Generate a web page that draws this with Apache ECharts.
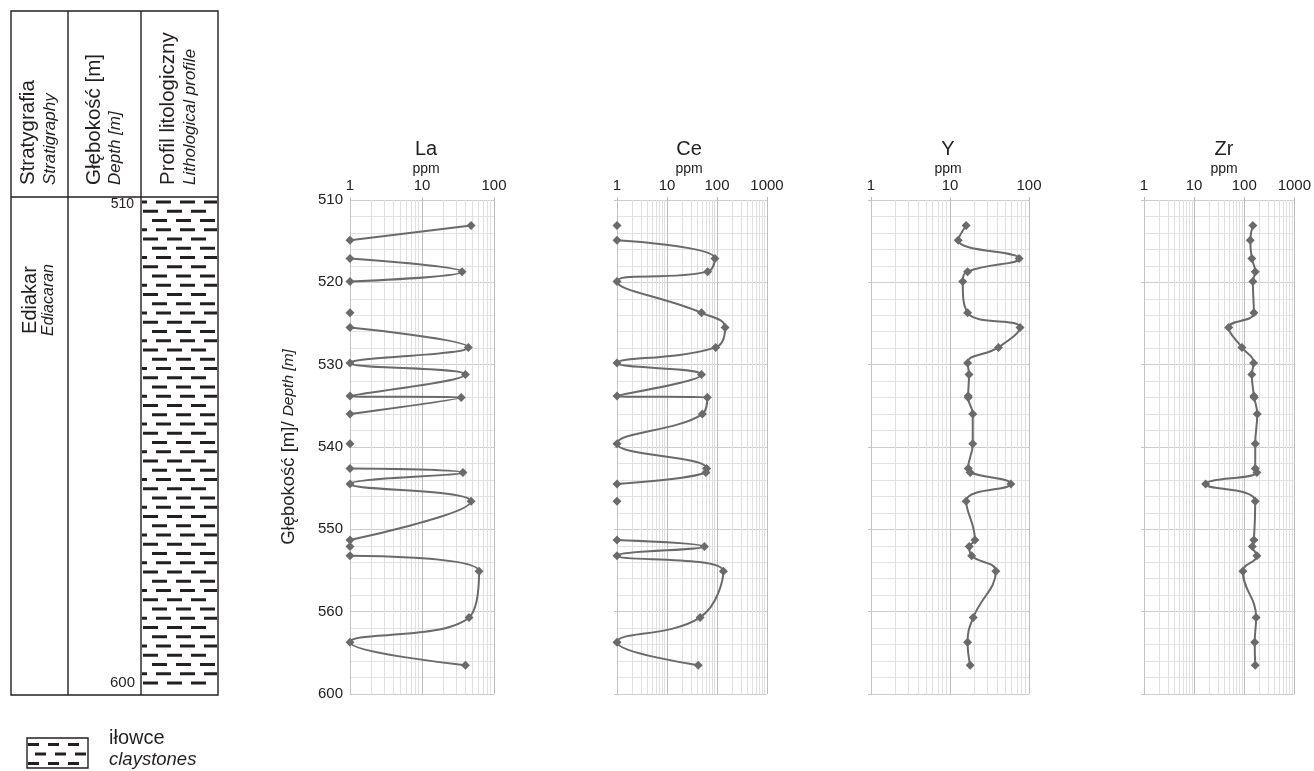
<!DOCTYPE html>
<html><head><meta charset="utf-8">
<script src="https://cdn.jsdelivr.net/npm/echarts@6/dist/echarts.min.js"></script>
<style>html,body{margin:0;padding:0;background:#fff}#c{width:1314px;height:771px}</style>
</head><body><div id="c"></div>
<script>
// ---------------- data ----------------
const depths = [513.1, 514.9, 517.1, 518.7, 519.9, 523.7, 525.5, 527.9, 529.8, 531.2, 533.8, 534.0, 536.0,
                539.6, 542.6, 543.1, 544.5, 546.6, 551.3, 552.1, 553.2, 555.1, 560.7, 563.7, 566.5];
const La = [48, 1, 1, 36, 1, 1, 1, 44, 1, 40, 1, 35, 1, 1, 1, 37, 1, 48, 1, 1, 1, 62, 45, 1, 40];
const Ce = [1, 1, 91, 65, 1, 49, 145, 94, 1, 49, 1, 64, 51, 1, 62, 60, 1, 1, 1, 56, 1, 134, 46, 1, 42];
const Yv = [16, 12.7, 75, 16.7, 14.5, 16.7, 77, 41, 16.7, 17.4, 17, 17, 19.4, 19.4, 17, 18, 59, 16, 20.7, 17.5, 18.8, 38, 19.7, 16.7, 18];
const Zr = [149, 132, 142, 166, 149, 156, 49, 90, 154, 142, 156, 158, 182, 166, 166, 179, 17, 166, 156, 145, 179, 94, 173, 162, 166];
const elementNames = ['La', 'Ce', 'Y', 'Zr'];
const elementValues = [La, Ce, Yv, Zr];
const xAxisMax = [100, 1000, 100, 1000];
const unitLabel = 'ppm';
const depthMin = 510, depthMax = 570, depthStep = 10;
const depthTickLabels = ['510', '520', '530', '540', '550', '560', '600'];
const tableDepthLabels = ['510', '600'];

// ---------------- layout ----------------
const FONT = 'Liberation Sans, Arial, Helvetica, sans-serif';
const panels = [
  {left: 350, width: 144, titleX: 421},
  {left: 617, width: 150, titleX: 684},
  {left: 871, width: 158, titleX: 943},
  {left: 1144, width: 151, titleX: 1219}
];
const gridTop = 200, gridHeight = 494;
const lineColor = '#6a6a6a';

function buildLine(vals) {
  // values at the axis minimum (1 ppm) sit on the axis edge; consecutive ones are not joined
  const out = [];
  for (let i = 0; i < vals.length; i++) {
    if (i > 0 && vals[i] === 1 && vals[i - 1] === 1) out.push(['-', '-']);
    out.push([vals[i], depths[i]]);
  }
  return out;
}
function minorValues(max) {
  const arr = [];
  for (let dec = 1; dec < max; dec *= 10) for (let k = 2; k <= 9; k++) arr.push(k * dec);
  return arr;
}

const grids = [], xAxes = [], yAxes = [], series = [], titles = [];
panels.forEach((p, i) => {
  grids.push({left: p.left, top: gridTop, width: p.width, height: gridHeight});
  xAxes.push({
    type: 'log', logBase: 10, min: 1, max: xAxisMax[i], gridIndex: i, position: 'top',
    axisLine: {show: false},
    axisTick: {show: true, length: 3, lineStyle: {color: '#b5b5b5'}},
    axisLabel: {fontFamily: FONT, fontSize: 15, color: '#222', margin: 7, formatter: v => String(v)},
    splitLine: {show: true, lineStyle: {color: '#bdbdbd', width: 1}}
  });
  yAxes.push({
    type: 'value', inverse: true, min: depthMin, max: depthMax, interval: depthStep, gridIndex: i,
    axisLine: {show: true, lineStyle: {color: '#c4c4c4'}},
    axisTick: {show: i > 0, length: 3, inside: false, lineStyle: {color: '#c4c4c4'}},
    axisLabel: {
      show: i === 0, fontFamily: FONT, fontSize: 15, color: '#222', margin: 7,
      formatter: v => depthTickLabels[Math.round((v - depthMin) / depthStep)]
    },
    splitLine: {show: true, lineStyle: {color: '#cdcdcd'}},
    minorTick: {show: false, splitNumber: 5},
    minorSplitLine: {show: true, lineStyle: {color: '#e3e3e3'}},
    name: i === 0 ? '{a|Głębokość [m]/ }{b|Depth [m]}' : '',
    nameLocation: 'middle', nameRotate: 90, nameGap: 52,
    nameTextStyle: {
      rich: {
        a: {fontFamily: FONT, fontSize: 18.5, color: '#222'},
        b: {fontFamily: FONT, fontSize: 15.5, fontStyle: 'italic', color: '#222'}
      }
    }
  });
  // light vertical minor grid lines of the log axis
  series.push({
    type: 'line', xAxisIndex: i, yAxisIndex: i, data: [], z: 1, silent: true,
    markLine: {
      silent: true, symbol: ['none', 'none'], label: {show: false}, animation: false,
      lineStyle: {color: '#e0e0e0', width: 1, type: 'solid'},
      data: minorValues(xAxisMax[i]).map(v => ({xAxis: v}))
    }
  });
  series.push({
    type: 'line', name: elementNames[i], xAxisIndex: i, yAxisIndex: i, z: 5,
    data: buildLine(elementValues[i]),
    smooth: 0.45, connectNulls: false, showSymbol: true, showAllSymbol: true,
    symbol: 'diamond', symbolSize: 9,
    lineStyle: {color: lineColor, width: 2},
    itemStyle: {color: lineColor},
    animation: false
  });
  titles.push({
    text: elementNames[i], subtext: unitLabel,
    left: p.titleX, top: 134, textAlign: 'center', itemGap: 3,
    textStyle: {fontFamily: FONT, fontSize: 20, fontWeight: 'normal', color: '#222'},
    subtextStyle: {fontFamily: FONT, fontSize: 14, color: '#222'}
  });
});

// ---------------- left lithology table (decoration) ----------------
const ink = '#231f20';
const g = [];
const T = {l: 11, r: 218, t: 11, b: 695, head: 197, c1: 68, c2: 141};
g.push({type: 'rect', shape: {x: T.l, y: T.t, width: T.r - T.l, height: T.b - T.t}, style: {fill: 'none', stroke: ink, lineWidth: 1.4}});
g.push({type: 'line', shape: {x1: T.l, y1: T.head, x2: T.r, y2: T.head}, style: {stroke: ink, lineWidth: 1.4}});
g.push({type: 'line', shape: {x1: T.c1, y1: T.t, x2: T.c1, y2: T.b}, style: {stroke: ink, lineWidth: 1.4}});
g.push({type: 'line', shape: {x1: T.c2, y1: T.t, x2: T.c2, y2: T.b}, style: {stroke: ink, lineWidth: 1.4}});
function vtext(x, y, text, size, italic, align) {
  return {type: 'text', x: x, y: y, rotation: Math.PI / 2,
    style: {text: text, x: 0, y: 0, fontFamily: FONT, fontSize: size, fontStyle: italic ? 'italic' : 'normal',
      fill: ink, align: align || 'left', verticalAlign: 'middle'}};
}
g.push(vtext(28.5, 185, 'Stratygrafia', 20.5, false));
g.push(vtext(50, 185, 'Stratigraphy', 17, true));
g.push(vtext(94.5, 185, 'Głębokość [m]', 20.5, false));
g.push(vtext(115.5, 185, 'Depth [m]', 17, true));
g.push(vtext(168, 185, 'Profil litologiczny', 20.5, false));
g.push(vtext(190.5, 185, 'Lithological profile', 17, true));
g.push(vtext(30, 300, 'Ediakar', 20, false, 'center'));
g.push(vtext(49, 300, 'Ediacaran', 16, true, 'center'));
g.push({type: 'text', x: 134, y: 204, style: {text: tableDepthLabels[0], fontFamily: FONT, fontSize: 14, fill: ink, align: 'right', verticalAlign: 'middle'}});
g.push({type: 'text', x: 135, y: 683, style: {text: tableDepthLabels[1], fontFamily: FONT, fontSize: 15, fill: ink, align: 'right', verticalAlign: 'middle'}});
// claystone dash pattern
function dashRows(x0, x1, y0, y1, step, period, len, offsets, th) {
  const out = [];
  let r = 0;
  for (let y = y0; y <= y1; y += step, r++) {
    for (let x = x0 + offsets[r % offsets.length] - period; x < x1; x += period) {
      const a = Math.max(x, x0 + 1), b = Math.min(x + len, x1 - 1);
      if (b - a > 3) out.push({type: 'rect', shape: {x: a, y: y - th / 2, width: b - a, height: th}, style: {fill: ink}});
    }
  }
  return out;
}
g.push(...dashRows(T.c2, T.r, 202, 691, 9.25, 24, 15, [15, 2, 11], 3));
// legend
g.push({type: 'rect', shape: {x: 27, y: 738, width: 61, height: 30}, style: {fill: 'none', stroke: ink, lineWidth: 1.4}});
g.push(...dashRows(27, 88, 744.5, 764, 9.5, 20, 11, [1, 8, 1], 3));
g.push({type: 'text', x: 109, y: 738, style: {text: 'iłowce', fontFamily: FONT, fontSize: 20, fill: ink, verticalAlign: 'middle'}});
g.push({type: 'text', x: 109, y: 760, style: {text: 'claystones', fontFamily: FONT, fontSize: 18.5, fontStyle: 'italic', fill: ink, verticalAlign: 'middle'}});

const chart = echarts.init(document.getElementById('c'), null, {renderer: 'canvas'});
chart.setOption({
  animation: false,
  backgroundColor: '#fff',
  title: titles,
  grid: grids,
  xAxis: xAxes,
  yAxis: yAxes,
  series: series,
  graphic: {elements: g}
});
</script>
</body></html>
